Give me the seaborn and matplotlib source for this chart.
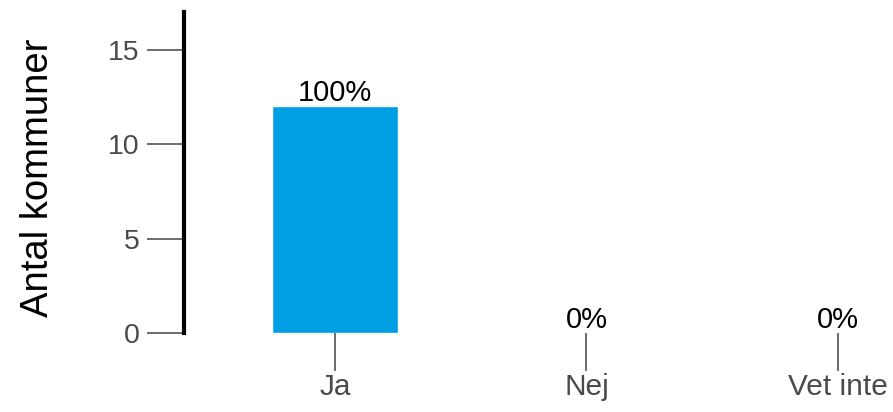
import numpy as np
import pandas as pd
import seaborn as sns
import matplotlib
matplotlib.use('Agg')
import matplotlib.pyplot as plt

categories = ['Ja', 'Nej', 'Vet inte']
counts = [12, 0, 0]
pct_labels = ['100%', '0%', '0%']

sns.set_style('white')
plt.rcParams['font.family'] = ['Liberation Sans', 'DejaVu Sans']

df = pd.DataFrame({'Svar': categories, 'Antal': counts})

fig = plt.figure(figsize=(8.93, 4.12), dpi=100)
ax = fig.add_axes([184 / 893, 79 / 412, 709 / 893, 321 / 412])

sns.barplot(data=df, x='Svar', y='Antal', color='#009FE3', saturation=1,
            width=0.5, ax=ax)

# procentetiketter ovanför staplarna
for i, lab in enumerate(pct_labels):
    ax.annotate(lab, (i, counts[i]), xytext=(0, 5), textcoords='offset pixels',
                ha='center', va='baseline', fontsize=21, color='black')

ax.set_ylim(0, 17)
ax.set_xlim(-0.6, 2.219)
ax.set_yticks([0, 5, 10, 15])

for s in ['top', 'right', 'bottom']:
    ax.spines[s].set_visible(False)
ax.spines['left'].set_linewidth(3)
ax.spines['left'].set_color('black')

ax.tick_params(axis='both', direction='out', length=27, width=1.1,
               color='#444444', labelcolor='#4A4A4A')
ax.tick_params(axis='y', labelsize=20.5, pad=5, left=True)
ax.tick_params(axis='x', labelsize=21.5, pad=2, bottom=True)

ax.set_xlabel('')
ax.set_ylabel('Antal kommuner', fontsize=27.5, color='black')
ax.yaxis.set_label_coords(-0.18, 0.485)

fig.savefig('out.png', dpi=100)
plt.close(fig)
